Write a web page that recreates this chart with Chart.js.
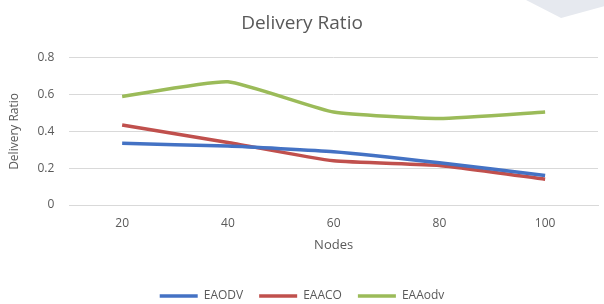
<!DOCTYPE html>
<html>
<head>
<meta charset="utf-8">
<script src="https://cdn.jsdelivr.net/npm/chart.js@4/dist/chart.umd.min.js"></script>
<style>
  html, body { margin: 0; padding: 0; background: #fff; }
  #wrap { position: relative; width: 604px; height: 304px; }
  #wrap canvas { position: absolute; left: 0; top: 0; }
  /* franja clara arriba a la derecha */
  #deco { position: absolute; left: 526px; top: 0; width: 78px; height: 18px;
          background: #e6e9ef; clip-path: polygon(0 0, 100% 0, 100% 35%, 45% 100%); }
</style>
</head>
<body>
<div id="wrap"><div id="deco"></div><canvas id="chart-delivery" width="604" height="304"></canvas></div>
<script>
// Delivery Ratio vs Nodes

const nodos = ['20', '40', '60', '80', '100'];
const eaodv = [0.335, 0.32, 0.29, 0.23, 0.16];
const eaaco = [0.435, 0.34, 0.24, 0.215, 0.14];
const eaaodv = [0.59, 0.67, 0.505, 0.47, 0.505];
const ticksY = [0, 0.2, 0.4, 0.6, 0.8];

const gris = '#595959';
const fuente = 'Open Sans';

function serie(label, data, color) {
  return {
    label: label,
    data: data,
    borderColor: color,
    backgroundColor: color,
    borderWidth: 3.5,
    pointRadius: 0,
    tension: 0.15
  };
}

// la leyenda queda pegada abajo aunque los items esten separados
const alturaLeyenda = {
  id: 'alturaLeyenda',
  beforeInit(chart) {
    const leyenda = chart.legend;
    if (!leyenda) return;
    const fitOrig = leyenda.fit.bind(leyenda);
    leyenda.fit = function () {
      fitOrig();
      this.height = 30;
    };
  }
};

new Chart(document.getElementById('chart-delivery'), {
  type: 'line',
  data: {
    labels: nodos,
    datasets: [
      serie('EAODV', eaodv, '#4472c4'),
      serie('EAACO', eaaco, '#c0504d'),
      serie('EAAodv', eaaodv, '#9bbb59')
    ]
  },
  options: {
    responsive: false,
    animation: false,
    layout: { padding: { left: 6, right: 6, top: 10, bottom: 0 } },
    plugins: {
      title: {
        display: true,
        text: 'Delivery Ratio',
        color: gris,
        font: { family: fuente, size: 19, weight: 'normal' },
        padding: { top: 2, bottom: 23 }
      },
      legend: {
        position: 'bottom',
        labels: {
          color: gris,
          font: { family: fuente, size: 12 },
          usePointStyle: true,
          pointStyle: 'line',
          pointStyleWidth: 38,
          padding: 16
        }
      }
    },
    scales: {
      x: {
        offset: true,
        grid: { display: false },
        border: { color: '#d9d9d9' },
        ticks: { color: gris, font: { family: fuente, size: 12 }, padding: 3 },
        title: { display: true, text: 'Nodes', color: gris, font: { family: fuente, size: 13 }, padding: { top: 4, bottom: 21 } }
      },
      y: {
        min: 0,
        max: 0.8,
        afterBuildTicks: axis => { axis.ticks = ticksY.map(v => ({ value: v })); },
        grid: { color: '#d9d9d9', drawTicks: false },
        border: { display: false },
        ticks: { color: gris, font: { family: fuente, size: 12 }, padding: 15, callback: v => String(v) },
        title: { display: true, text: 'Delivery Ratio', color: gris, font: { family: fuente, size: 12 }, padding: 1 }
      }
    }
  },
  plugins: [alturaLeyenda]
});
</script>
</body>
</html>
